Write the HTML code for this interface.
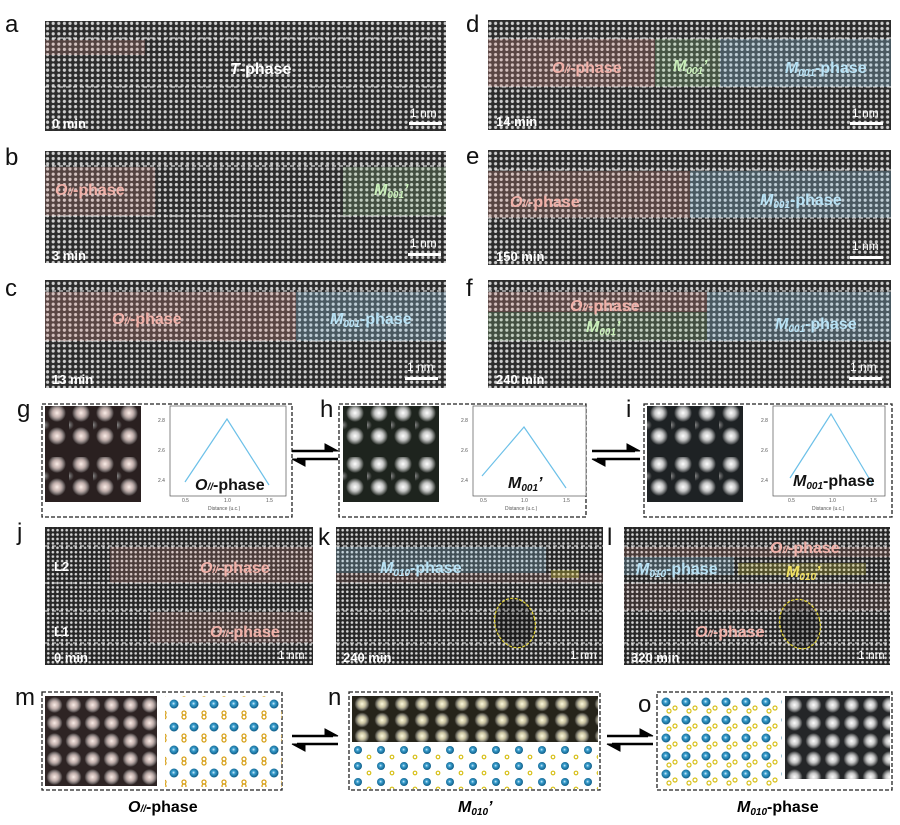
<!DOCTYPE html>
<html><head><meta charset="utf-8"><style>
html,body{margin:0;padding:0;background:#fff;}
svg{display:block;font-family:"Liberation Sans",sans-serif;}
.lab{font-size:24px;fill:#111;}
.ph{font-size:16px;font-weight:bold;}
.tm{font-size:13px;font-weight:bold;fill:#fff;}
.nm{font-size:12px;fill:#fff;}
.box{fill:#fff;stroke:#222;stroke-width:1.3;stroke-dasharray:4 2;}
.dl{stroke:#eee;stroke-width:1;stroke-dasharray:4 3;}
.cap{font-size:16px;font-weight:bold;fill:#000;}
.ax{font-size:5px;fill:#555;}
.ov{opacity:0.7;}
</style></head><body>
<svg width="900" height="825" viewBox="0 0 900 825" xmlns="http://www.w3.org/2000/svg">
<defs>
<pattern id="lat" width="5.6" height="5.2" patternUnits="userSpaceOnUse">
<rect width="5.6" height="5.2" fill="#2c2c2c"/><circle cx="2.8" cy="2.6" r="1.6" fill="#cfcfcf"/></pattern>
<pattern id="latf" width="4.6" height="4.4" patternUnits="userSpaceOnUse">
<rect width="4.6" height="4.4" fill="#262626"/><circle cx="2.3" cy="2.2" r="1.3" fill="#d4d4d4"/></pattern>
<radialGradient id="blob"><stop offset="0" stop-color="#fff"/><stop offset="0.45" stop-color="#ddd" stop-opacity="0.9"/><stop offset="1" stop-color="#fff" stop-opacity="0"/></radialGradient>
<radialGradient id="blobd"><stop offset="0" stop-color="#888"/><stop offset="1" stop-color="#888" stop-opacity="0"/></radialGradient>
<radialGradient id="blobp"><stop offset="0" stop-color="#fbeee8"/><stop offset="0.45" stop-color="#d8c4c0" stop-opacity="0.9"/><stop offset="1" stop-color="#fff" stop-opacity="0"/></radialGradient>
<radialGradient id="blobY"><stop offset="0" stop-color="#fffbe0"/><stop offset="0.45" stop-color="#ddd6b0" stop-opacity="0.9"/><stop offset="1" stop-color="#fff" stop-opacity="0"/></radialGradient>
<radialGradient id="atom" cx="0.45" cy="0.45"><stop offset="0" stop-color="#e8f6ff"/><stop offset="0.35" stop-color="#3aa0d0"/><stop offset="1" stop-color="#14648f"/></radialGradient>
<pattern id="bg" width="24" height="51" patternUnits="userSpaceOnUse" x="45" y="406">
<rect width="24" height="51" fill="#2a2020"/>
<circle cx="12" cy="7" r="9" fill="url(#blobp)"/><circle cx="12" cy="30" r="9" fill="url(#blobp)"/><circle cx="0" cy="19" r="5" fill="url(#blobd)"/></pattern>
<pattern id="bh" width="24" height="51" patternUnits="userSpaceOnUse" x="343" y="406">
<rect width="24" height="51" fill="#1e241e"/>
<circle cx="12" cy="7" r="9" fill="url(#blob)"/><circle cx="12" cy="30" r="9" fill="url(#blob)"/><circle cx="0" cy="19" r="5" fill="url(#blobd)"/></pattern>
<pattern id="bi" width="24" height="51" patternUnits="userSpaceOnUse" x="647" y="406">
<rect width="24" height="51" fill="#1e2224"/>
<circle cx="12" cy="7" r="9" fill="url(#blob)"/><circle cx="12" cy="30" r="9" fill="url(#blob)"/><circle cx="0" cy="19" r="5" fill="url(#blobd)"/></pattern>
<pattern id="bm" width="19" height="18" patternUnits="userSpaceOnUse" x="45" y="696">
<rect width="19" height="18" fill="#2e2424"/><circle cx="9.5" cy="9" r="8" fill="url(#blobp)"/></pattern>
<pattern id="bn" width="20" height="16" patternUnits="userSpaceOnUse" x="352" y="696">
<rect width="20" height="16" fill="#26241a"/><circle cx="10" cy="8" r="7.5" fill="url(#blobY)"/></pattern>
<pattern id="bo" width="19" height="18" patternUnits="userSpaceOnUse" x="785" y="696">
<rect width="19" height="18" fill="#242628"/><circle cx="9.5" cy="9" r="8" fill="url(#blob)"/></pattern>
<pattern id="sm" width="20" height="23" patternUnits="userSpaceOnUse" x="168" y="698">
<circle cx="6" cy="6" r="4.5" fill="url(#atom)"/>
<circle cx="16" cy="15" r="2" fill="none" stroke="#d7a019" stroke-width="1.3"/>
<circle cx="16" cy="19" r="2" fill="none" stroke="#d7a019" stroke-width="1.3"/></pattern>
<pattern id="sn" width="23" height="16" patternUnits="userSpaceOnUse" x="352" y="745">
<circle cx="6" cy="5" r="4" fill="url(#atom)"/>
<circle cx="17" cy="12" r="1.8" fill="none" stroke="#d7c019" stroke-width="1.2"/></pattern>
<pattern id="so" width="20" height="18" patternUnits="userSpaceOnUse" x="660" y="696">
<circle cx="6" cy="6" r="4.5" fill="url(#atom)"/>
<circle cx="15" cy="12" r="2" fill="none" stroke="#d7c019" stroke-width="1.2"/>
<circle cx="9" cy="15" r="2" fill="none" stroke="#d7c019" stroke-width="1.2"/></pattern>
</defs>

<!-- a -->
<text x="5" y="32" class="lab">a</text>
<rect x="45" y="21" width="401" height="110" fill="url(#lat)"/>
<g class="ov"><rect x="45" y="40" width="100" height="15" fill="rgba(230,150,140,0.3)"/></g>
<line x1="45" y1="38" x2="446" y2="38" class="dl"/><line x1="45" y1="87" x2="446" y2="87" class="dl"/>
<text x="230" y="74" class="ph" fill="#fff"><tspan font-style="italic">T</tspan>-phase</text>
<text x="52" y="128" class="tm">0 min</text>
<text x="410" y="117" class="nm">1 nm</text><rect x="409" y="122" width="33" height="3" fill="#fff"/>

<!-- b -->
<text x="5" y="165" class="lab">b</text>
<rect x="45" y="151" width="401" height="112" fill="url(#lat)"/>
<g class="ov">
<rect x="45" y="167" width="110" height="49" fill="rgba(230,150,140,0.3)"/>
<rect x="343" y="167" width="103" height="49" fill="rgba(150,210,140,0.3)"/></g>
<line x1="45" y1="166" x2="446" y2="166" class="dl"/><line x1="45" y1="216" x2="446" y2="216" class="dl"/>
<text x="55" y="195" class="ph" fill="#f0b0a8"><tspan font-style="italic">O<tspan font-size="10">//</tspan></tspan>-phase</text>
<text x="374" y="195" class="ph" fill="#c8eeb8" font-style="italic">M<tspan font-size="10" dy="3">001</tspan><tspan dy="-3">’</tspan></text>
<text x="52" y="260" class="tm">3 min</text>
<text x="410" y="247" class="nm">1 nm</text><rect x="408" y="253" width="33" height="3" fill="#fff"/>

<!-- c -->
<text x="5" y="296" class="lab">c</text>
<rect x="45" y="280" width="401" height="108" fill="url(#lat)"/>
<g class="ov">
<rect x="45" y="292" width="251" height="49" fill="rgba(230,150,140,0.35)"/>
<rect x="296" y="292" width="150" height="49" fill="rgba(150,205,235,0.4)"/></g>
<line x1="45" y1="291" x2="446" y2="291" class="dl"/><line x1="45" y1="341" x2="446" y2="341" class="dl"/>
<text x="112" y="324" class="ph" fill="#f0b0a8"><tspan font-style="italic">O<tspan font-size="10">//</tspan></tspan>-phase</text>
<text x="330" y="324" class="ph" fill="#b8e2f5"><tspan font-style="italic">M<tspan font-size="10" dy="3">001</tspan></tspan><tspan dy="-3">-phase</tspan></text>
<text x="52" y="384" class="tm">13 min</text>
<text x="407" y="371" class="nm">1 nm</text><rect x="405" y="377" width="33" height="3" fill="#fff"/>

<!-- d -->
<text x="466" y="32" class="lab">d</text>
<rect x="488" y="20" width="403" height="110" fill="url(#lat)"/>
<g class="ov">
<rect x="488" y="39" width="167" height="48" fill="rgba(230,150,140,0.35)"/>
<rect x="655" y="39" width="65" height="48" fill="rgba(150,210,140,0.35)"/>
<rect x="720" y="39" width="171" height="48" fill="rgba(150,205,235,0.4)"/></g>
<line x1="488" y1="38" x2="891" y2="38" class="dl"/><line x1="488" y1="87" x2="891" y2="87" class="dl"/>
<text x="552" y="73" class="ph" fill="#f0b0a8"><tspan font-style="italic">O<tspan font-size="10">//</tspan></tspan>-phase</text>
<text x="673" y="71" class="ph" fill="#c8eeb8" font-style="italic">M<tspan font-size="10" dy="3">001</tspan><tspan dy="-3">’</tspan></text>
<text x="785" y="73" class="ph" fill="#b8e2f5"><tspan font-style="italic">M<tspan font-size="10" dy="3">001</tspan></tspan><tspan dy="-3">-phase</tspan></text>
<text x="496" y="126" class="tm">14 min</text>
<text x="852" y="117" class="nm">1 nm</text><rect x="850" y="122" width="33" height="3" fill="#fff"/>

<!-- e -->
<text x="466" y="164" class="lab">e</text>
<rect x="488" y="150" width="403" height="115" fill="url(#lat)"/>
<g class="ov">
<rect x="488" y="171" width="202" height="47" fill="rgba(230,150,140,0.33)"/>
<rect x="690" y="171" width="201" height="47" fill="rgba(150,205,235,0.4)"/></g>
<line x1="488" y1="170" x2="891" y2="170" class="dl"/><line x1="488" y1="218" x2="891" y2="218" class="dl"/>
<text x="510" y="207" class="ph" fill="#f0b0a8"><tspan font-style="italic">O<tspan font-size="10">//</tspan></tspan>-phase</text>
<text x="760" y="205" class="ph" fill="#b8e2f5"><tspan font-style="italic">M<tspan font-size="10" dy="3">001</tspan></tspan><tspan dy="-3">-phase</tspan></text>
<text x="496" y="261" class="tm">150 min</text>
<text x="852" y="250" class="nm">1 nm</text><rect x="850" y="256" width="33" height="3" fill="#fff"/>

<!-- f -->
<text x="466" y="296" class="lab">f</text>
<rect x="488" y="280" width="403" height="108" fill="url(#lat)"/>
<g class="ov">
<rect x="488" y="292" width="219" height="20" fill="rgba(230,150,140,0.35)"/>
<rect x="488" y="312" width="219" height="29" fill="rgba(150,210,140,0.3)"/>
<rect x="707" y="292" width="184" height="49" fill="rgba(150,205,235,0.4)"/></g>
<line x1="488" y1="291" x2="891" y2="291" class="dl"/><line x1="488" y1="341" x2="891" y2="341" class="dl"/>
<text x="570" y="311" class="ph" fill="#f0b0a8"><tspan font-style="italic">O<tspan font-size="10">//</tspan></tspan>-phase</text>
<text x="586" y="332" class="ph" fill="#c8eeb8" font-style="italic">M<tspan font-size="10" dy="3">001</tspan><tspan dy="-3">’</tspan></text>
<text x="775" y="329" class="ph" fill="#b8e2f5"><tspan font-style="italic">M<tspan font-size="10" dy="3">001</tspan></tspan><tspan dy="-3">-phase</tspan></text>
<text x="496" y="384" class="tm">240 min</text>
<text x="850" y="371" class="nm">1 nm</text><rect x="849" y="377" width="33" height="3" fill="#fff"/>

<!-- g h i -->
<text x="17" y="417" class="lab">g</text>
<rect x="42" y="404" width="250" height="113" class="box"/>
<rect x="45" y="406" width="96" height="96" fill="url(#bg)"/>
<text x="320" y="417" class="lab">h</text>
<rect x="339" y="404" width="247" height="113" class="box"/>
<rect x="343" y="406" width="96" height="96" fill="url(#bh)"/>
<text x="626" y="417" class="lab">i</text>
<rect x="644" y="404" width="248" height="113" class="box"/>
<rect x="647" y="406" width="96" height="96" fill="url(#bi)"/>

<rect x="170" y="406" width="116" height="90" fill="#fff" stroke="#555" stroke-width="0.7"/>
<polyline points="185,482 227,419 269,485" fill="none" stroke="#6cc0e8" stroke-width="1.2"/>
<text x="158" y="422" class="ax">2.8</text><text x="158" y="452" class="ax">2.6</text><text x="158" y="482" class="ax">2.4</text>
<text x="182" y="502" class="ax">0.5</text><text x="224" y="502" class="ax">1.0</text><text x="266" y="502" class="ax">1.5</text>
<text x="208" y="510" class="ax">Distance (u.c.)</text>
<text x="195" y="490" class="ph" fill="#111"><tspan font-style="italic">O<tspan font-size="10">//</tspan></tspan>-phase</text>

<rect x="473" y="406" width="113" height="90" fill="#fff" stroke="#555" stroke-width="0.7"/>
<polyline points="482,476 524,427 566,488" fill="none" stroke="#6cc0e8" stroke-width="1.2"/>
<text x="461" y="422" class="ax">2.8</text><text x="461" y="452" class="ax">2.6</text><text x="461" y="482" class="ax">2.4</text>
<text x="480" y="502" class="ax">0.5</text><text x="521" y="502" class="ax">1.0</text><text x="563" y="502" class="ax">1.5</text>
<text x="505" y="510" class="ax">Distance (u.c.)</text>
<text x="508" y="488" class="ph" fill="#111" font-style="italic">M<tspan font-size="10" dy="3">001</tspan><tspan dy="-3">’</tspan></text>

<rect x="773" y="406" width="112" height="90" fill="#fff" stroke="#555" stroke-width="0.7"/>
<polyline points="790,478 831,414 873,485" fill="none" stroke="#6cc0e8" stroke-width="1.2"/>
<text x="761" y="422" class="ax">2.8</text><text x="761" y="452" class="ax">2.6</text><text x="761" y="482" class="ax">2.4</text>
<text x="788" y="502" class="ax">0.5</text><text x="829" y="502" class="ax">1.0</text><text x="870" y="502" class="ax">1.5</text>
<text x="812" y="510" class="ax">Distance (u.c.)</text>
<text x="793" y="486" class="ph" fill="#111"><tspan font-style="italic">M<tspan font-size="10" dy="3">001</tspan></tspan><tspan dy="-3">-phase</tspan></text>

<g fill="#000" stroke="#000" stroke-width="2.5">
<line x1="292" y1="451" x2="333" y2="451"/><path d="M325,444 L338,451 L325,451Z" stroke-width="1"/>
<line x1="297" y1="459" x2="338" y2="459"/><path d="M305,466 L292,459 L305,459Z" stroke-width="1"/>
<line x1="592" y1="451" x2="635" y2="451"/><path d="M627,444 L640,451 L627,451Z" stroke-width="1"/>
<line x1="597" y1="459" x2="640" y2="459"/><path d="M605,466 L592,459 L605,459Z" stroke-width="1"/>
<line x1="292" y1="736" x2="333" y2="736"/><path d="M325,729 L338,736 L325,736Z" stroke-width="1"/>
<line x1="297" y1="744" x2="338" y2="744"/><path d="M305,751 L292,744 L305,744Z" stroke-width="1"/>
<line x1="607" y1="736" x2="648" y2="736"/><path d="M640,729 L653,736 L640,736Z" stroke-width="1"/>
<line x1="612" y1="744" x2="653" y2="744"/><path d="M620,751 L607,744 L620,744Z" stroke-width="1"/>
</g>

<!-- j -->
<text x="17" y="540" class="lab">j</text>
<rect x="45" y="527" width="268" height="138" fill="url(#latf)"/>
<g class="ov">
<rect x="110" y="547" width="203" height="36" fill="rgba(230,150,140,0.28)"/>
<rect x="150" y="612" width="163" height="31" fill="rgba(230,150,140,0.25)"/></g>
<line x1="45" y1="546" x2="313" y2="546" class="dl"/><line x1="45" y1="583" x2="313" y2="583" class="dl"/>
<line x1="45" y1="611" x2="313" y2="611" class="dl"/><line x1="45" y1="643" x2="313" y2="643" class="dl"/>
<text x="54" y="571" class="tm">L2</text><text x="54" y="636" class="tm">L1</text>
<text x="200" y="573" class="ph" fill="#f0b0a8"><tspan font-style="italic">O<tspan font-size="10">//</tspan></tspan>-phase</text>
<text x="210" y="637" class="ph" fill="#f0b0a8"><tspan font-style="italic">O<tspan font-size="10">//</tspan></tspan>-phase</text>
<text x="54" y="662" class="tm">0 min</text><text x="278" y="659" class="nm">1 nm</text>

<!-- k -->
<text x="318" y="545" class="lab">k</text>
<rect x="336" y="527" width="267" height="138" fill="url(#latf)"/>
<g class="ov">
<rect x="336" y="547" width="210" height="26" fill="rgba(150,205,235,0.35)"/>
<rect x="336" y="573" width="267" height="10" fill="rgba(230,150,140,0.2)"/>
<rect x="551" y="570" width="28" height="8" fill="rgba(220,210,60,0.45)"/></g>
<line x1="336" y1="546" x2="603" y2="546" class="dl"/><line x1="336" y1="583" x2="603" y2="583" class="dl"/>
<line x1="336" y1="611" x2="603" y2="611" class="dl"/><line x1="336" y1="643" x2="603" y2="643" class="dl"/>
<ellipse cx="515" cy="623" rx="20" ry="25" transform="rotate(-15 515 623)" fill="rgba(0,0,0,0.25)" stroke="#e0d030" stroke-width="1.2" stroke-dasharray="3 1.5"/>
<text x="380" y="573" class="ph" fill="#b8e2f5"><tspan font-style="italic">M<tspan font-size="10" dy="3">010</tspan></tspan><tspan dy="-3">-phase</tspan></text>
<text x="343" y="662" class="tm">240 min</text><text x="570" y="659" class="nm">1 nm</text>

<!-- l -->
<text x="607" y="545" class="lab">l</text>
<rect x="624" y="527" width="266" height="138" fill="url(#latf)"/>
<g class="ov">
<rect x="624" y="547" width="266" height="10" fill="rgba(230,150,140,0.25)"/>
<rect x="624" y="557" width="110" height="18" fill="rgba(150,205,235,0.35)"/>
<rect x="738" y="563" width="128" height="12" fill="rgba(220,210,60,0.35)"/>
<rect x="624" y="583" width="266" height="28" fill="rgba(230,150,140,0.15)"/></g>
<line x1="624" y1="546" x2="890" y2="546" class="dl"/><line x1="624" y1="583" x2="890" y2="583" class="dl"/>
<line x1="624" y1="611" x2="890" y2="611" class="dl"/><line x1="624" y1="643" x2="890" y2="643" class="dl"/>
<ellipse cx="800" cy="624" rx="20" ry="25" transform="rotate(-15 800 624)" fill="rgba(0,0,0,0.25)" stroke="#e0d030" stroke-width="1.2" stroke-dasharray="3 1.5"/>
<text x="770" y="553" class="ph" fill="#f0b0a8"><tspan font-style="italic">O<tspan font-size="10">//</tspan></tspan>-phase</text>
<text x="636" y="574" class="ph" fill="#b8e2f5"><tspan font-style="italic">M<tspan font-size="10" dy="3">010</tspan></tspan><tspan dy="-3">-phase</tspan></text>
<text x="786" y="577" class="ph" fill="#f0e060" font-style="italic">M<tspan font-size="10" dy="3">010</tspan><tspan dy="-3">’</tspan></text>
<text x="695" y="637" class="ph" fill="#f0b0a8"><tspan font-style="italic">O<tspan font-size="10">//</tspan></tspan>-phase</text>
<text x="631" y="662" class="tm">320 min</text><text x="858" y="659" class="nm">1 nm</text>

<!-- m n o -->
<text x="15" y="705" class="lab">m</text>
<rect x="42" y="692" width="240" height="98" class="box"/>
<rect x="45" y="696" width="112" height="90" fill="url(#bm)"/>
<rect x="165" y="696" width="117" height="91" fill="url(#sm)"/>
<text x="328" y="705" class="lab">n</text>
<rect x="349" y="692" width="251" height="98" class="box"/>
<rect x="352" y="696" width="246" height="46" fill="url(#bn)"/>
<rect x="352" y="744" width="246" height="45" fill="url(#sn)"/>
<text x="638" y="712" class="lab">o</text>
<rect x="657" y="692" width="235" height="98" class="box"/>
<rect x="660" y="696" width="122" height="91" fill="url(#so)"/>
<rect x="785" y="696" width="105" height="83" fill="url(#bo)"/>
<text x="128" y="812" class="cap"><tspan font-style="italic">O<tspan font-size="10">//</tspan></tspan>-phase</text>
<text x="458" y="812" class="cap" font-style="italic">M<tspan font-size="10" dy="3">010</tspan><tspan dy="-3">’</tspan></text>
<text x="737" y="812" class="cap"><tspan font-style="italic">M<tspan font-size="10" dy="3">010</tspan></tspan><tspan dy="-3">-phase</tspan></text>
</svg>
</body></html>
